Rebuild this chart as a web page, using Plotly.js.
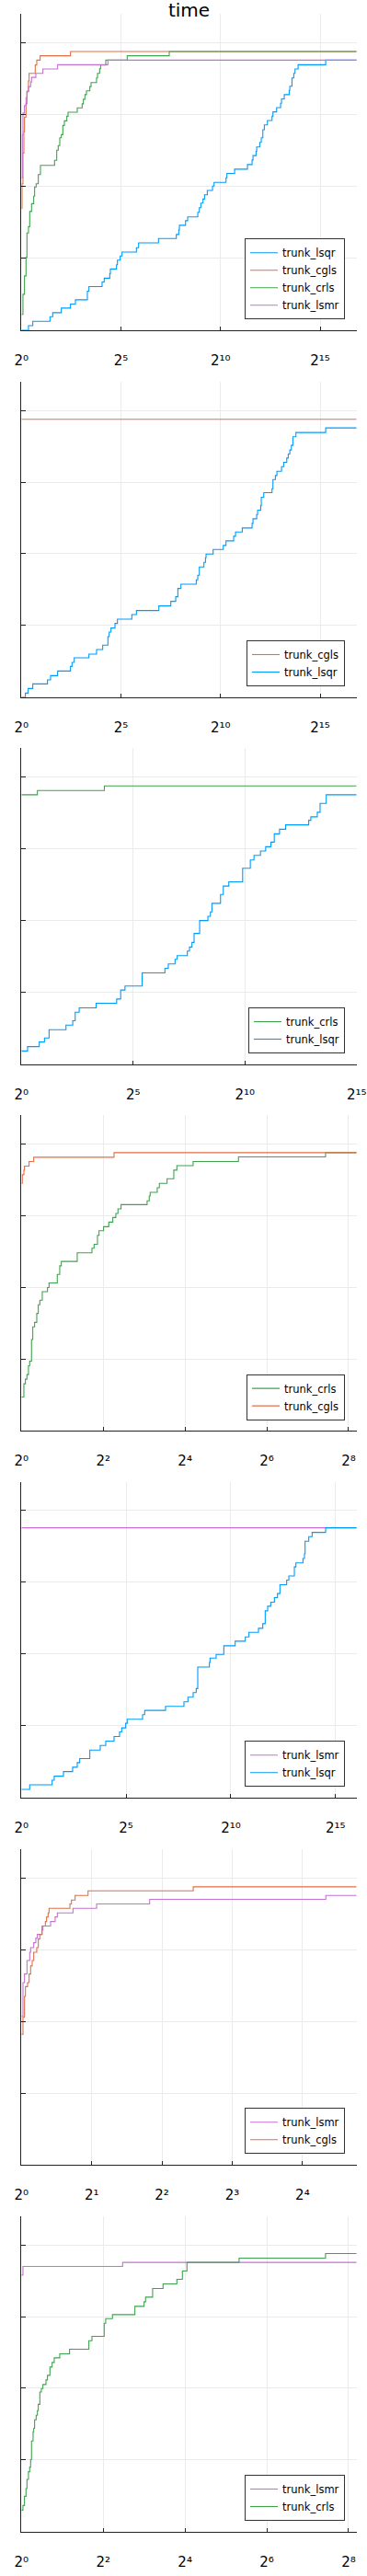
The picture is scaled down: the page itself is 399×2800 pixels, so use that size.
<!DOCTYPE html>
<html><head><meta charset="utf-8">
<script src="https://cdn.plot.ly/plotly-3.0.1.min.js"></script>
<style>html,body{margin:0;padding:0;background:#fff;} #chart{width:399px;height:2800px;}</style>
</head><body><div id="chart"></div><script>
// x values are log2(tau); y values are fraction of problems
const p1_lsqr_x = [0, 0.354, 0.570, 1.432, 1.571, 2.002, 2.464, 2.711, 3.311, 3.388, 4.050, 4.158, 4.436, 4.466, 4.774, 4.821, 4.959, 5.052, 5.775, 5.883, 6.884, 7.778, 7.901, 7.932, 8.240, 8.347, 8.856, 8.933, 9.010, 9.117, 9.194, 9.333, 9.595, 9.672, 10.272, 10.318, 10.704, 11.351, 11.582, 11.628, 11.782, 11.813, 11.967, 12.044, 12.121, 12.198, 12.352, 12.583, 12.629, 12.814, 13.014, 13.060, 13.199, 13.445, 13.476, 13.584, 13.676, 13.738, 13.892, 15.278, 16.83];
const p1_lsqr_y = [0, 0.016, 0.031, 0.047, 0.061, 0.077, 0.091, 0.106, 0.136, 0.152, 0.168, 0.181, 0.197, 0.213, 0.228, 0.244, 0.258, 0.272, 0.287, 0.304, 0.319, 0.333, 0.349, 0.365, 0.381, 0.394, 0.410, 0.426, 0.442, 0.456, 0.471, 0.486, 0.501, 0.514, 0.530, 0.545, 0.560, 0.576, 0.592, 0.607, 0.622, 0.637, 0.653, 0.669, 0.697, 0.714, 0.729, 0.744, 0.759, 0.774, 0.789, 0.804, 0.819, 0.834, 0.848, 0.877, 0.893, 0.908, 0.923, 0.939, 0.939];
const p1_cgls_x = [0, 0.031, 0.077, 0.123, 0.154, 0.231, 0.277, 0.354, 0.385, 0.693, 0.770, 0.939, 2.464, 16.83];
const p1_cgls_y = [0.424, 0.509, 0.616, 0.690, 0.741, 0.787, 0.829, 0.867, 0.893, 0.922, 0.939, 0.954, 0.969, 0.969];
const p1_crls_x = [0, 0.077, 0.154, 0.231, 0.277, 0.354, 0.416, 0.508, 0.616, 0.662, 0.739, 0.847, 0.955, 1.663, 1.771, 1.848, 1.925, 2.002, 2.079, 2.156, 2.279, 2.341, 2.803, 3.049, 3.111, 3.188, 3.265, 3.434, 3.496, 3.773, 3.820, 3.927, 3.974, 4.235, 5.313, 7.423, 16.83];
const p1_crls_y = [0.055, 0.125, 0.189, 0.253, 0.338, 0.360, 0.413, 0.440, 0.466, 0.498, 0.509, 0.541, 0.573, 0.591, 0.626, 0.642, 0.669, 0.680, 0.712, 0.728, 0.744, 0.758, 0.773, 0.787, 0.803, 0.819, 0.832, 0.847, 0.861, 0.877, 0.893, 0.909, 0.922, 0.939, 0.954, 0.969, 0.969];
const p1_lsmr_x = [0, 0.046, 0.077, 0.154, 0.231, 0.277, 0.354, 0.462, 0.508, 0.724, 1.078, 1.817, 4.343, 16.83];
const p1_lsmr_y = [0.530, 0.680, 0.755, 0.781, 0.808, 0.831, 0.847, 0.863, 0.879, 0.893, 0.908, 0.923, 0.939, 0.939];

const p2_cgls_x = [0, 16.83];
const p2_cgls_y = [0.969, 0.969];
const p2_lsqr_x = [0, 0.200, 0.339, 0.570, 1.309, 1.463, 1.817, 2.464, 2.541, 2.649, 3.388, 3.773, 4.081, 4.343, 4.405, 4.497, 4.697, 4.821, 5.544, 5.775, 6.900, 7.501, 7.747, 7.855, 8.009, 8.779, 8.856, 8.933, 9.164, 9.241, 9.271, 9.625, 10.134, 10.272, 10.657, 10.750, 11.089, 11.582, 11.628, 11.813, 11.859, 12.013, 12.044, 12.167, 12.583, 12.629, 12.752, 12.829, 13.060, 13.168, 13.322, 13.399, 13.476, 13.553, 13.630, 13.784, 15.278, 16.83];
const p2_lsqr_y = [0, 0.014, 0.030, 0.046, 0.060, 0.075, 0.091, 0.107, 0.121, 0.137, 0.150, 0.166, 0.181, 0.211, 0.227, 0.241, 0.257, 0.272, 0.288, 0.302, 0.318, 0.334, 0.350, 0.379, 0.394, 0.409, 0.425, 0.454, 0.470, 0.486, 0.499, 0.515, 0.529, 0.545, 0.561, 0.576, 0.590, 0.606, 0.622, 0.637, 0.652, 0.668, 0.697, 0.713, 0.727, 0.759, 0.773, 0.788, 0.804, 0.819, 0.834, 0.848, 0.862, 0.878, 0.908, 0.923, 0.939, 0.939];

const p3_crls_x = [0, 0.715, 3.712, 15];
const p3_crls_y = [0.938, 0.953, 0.969, 0.969];
const p3_lsqr_x = [0, 0.275, 0.797, 1.031, 1.237, 1.994, 2.296, 2.406, 2.585, 3.341, 4.262, 4.441, 4.634, 5.404, 6.421, 6.572, 6.875, 6.971, 7.425, 7.521, 7.631, 7.727, 7.975, 8.346, 8.456, 8.525, 8.910, 9.033, 9.281, 9.900, 10.243, 10.408, 10.697, 10.931, 11.165, 11.316, 11.550, 11.825, 12.856, 12.952, 13.241, 13.365, 13.640, 15];
const p3_lsqr_y = [0.046, 0.061, 0.077, 0.091, 0.120, 0.136, 0.151, 0.181, 0.196, 0.212, 0.227, 0.258, 0.272, 0.318, 0.334, 0.349, 0.365, 0.378, 0.394, 0.408, 0.424, 0.455, 0.500, 0.515, 0.530, 0.560, 0.591, 0.620, 0.635, 0.682, 0.711, 0.727, 0.742, 0.757, 0.773, 0.802, 0.818, 0.833, 0.849, 0.861, 0.877, 0.908, 0.938, 0.938];

const p4_crls_x = [0, 0.060, 0.097, 0.135, 0.172, 0.202, 0.247, 0.277, 0.322, 0.375, 0.412, 0.450, 0.510, 0.637, 0.675, 0.877, 0.937, 0.975, 1.364, 1.724, 1.777, 1.859, 1.897, 2.009, 2.136, 2.234, 2.309, 2.361, 2.436, 3.073, 3.126, 3.148, 3.321, 3.373, 3.561, 3.726, 3.801, 4.198, 5.307, 7.436, 8.196];
const p4_crls_y = [0.118, 0.164, 0.180, 0.196, 0.227, 0.243, 0.318, 0.362, 0.378, 0.409, 0.439, 0.455, 0.485, 0.499, 0.515, 0.545, 0.575, 0.590, 0.620, 0.636, 0.650, 0.681, 0.697, 0.711, 0.727, 0.743, 0.757, 0.773, 0.788, 0.801, 0.818, 0.831, 0.847, 0.862, 0.878, 0.908, 0.924, 0.938, 0.954, 0.969, 0.969];
const p4_cgls_x = [0, 0.022, 0.060, 0.075, 0.187, 0.300, 2.264, 8.196];
const p4_cgls_y = [0.862, 0.892, 0.908, 0.922, 0.938, 0.953, 0.969, 0.969];

const p5_lsmr_x = [0, 16.01];
const p5_lsmr_y = [0.940, 0.940];
const p5_lsqr_x = [0, 0.395, 1.465, 1.567, 2.007, 2.446, 2.666, 2.783, 3.266, 3.764, 4.028, 4.424, 4.687, 4.790, 4.980, 5.053, 5.786, 5.888, 6.884, 7.763, 7.954, 8.203, 8.349, 8.422, 8.979, 9.008, 9.301, 9.667, 10.209, 10.693, 10.869, 11.323, 11.528, 11.645, 11.762, 11.909, 12.084, 12.231, 12.348, 12.670, 12.773, 13.037, 13.110, 13.447, 13.520, 13.549, 13.725, 13.886, 14.531, 16.01];
const p5_lsqr_y = [0.029, 0.045, 0.061, 0.075, 0.091, 0.106, 0.122, 0.136, 0.166, 0.182, 0.197, 0.213, 0.229, 0.243, 0.259, 0.273, 0.289, 0.304, 0.318, 0.334, 0.350, 0.366, 0.380, 0.455, 0.471, 0.486, 0.499, 0.529, 0.545, 0.560, 0.576, 0.590, 0.606, 0.651, 0.667, 0.681, 0.697, 0.711, 0.742, 0.758, 0.772, 0.804, 0.818, 0.833, 0.849, 0.893, 0.909, 0.924, 0.940, 0.940];

const p6_lsmr_x = [0, 0.022, 0.044, 0.079, 0.118, 0.131, 0.175, 0.205, 0.227, 0.293, 0.306, 0.415, 0.480, 0.511, 0.734, 1.070, 1.825, 4.332, 4.77];
const p6_lsmr_y = [0.517, 0.635, 0.665, 0.712, 0.741, 0.757, 0.774, 0.790, 0.803, 0.818, 0.832, 0.848, 0.864, 0.878, 0.894, 0.909, 0.925, 0.939, 0.939];
const p6_cgls_x = [0, 0.022, 0.044, 0.057, 0.087, 0.109, 0.131, 0.153, 0.175, 0.218, 0.240, 0.262, 0.293, 0.341, 0.358, 0.380, 0.393, 0.690, 0.712, 0.764, 0.948, 2.445, 4.77];
const p6_cgls_y = [0.455, 0.514, 0.587, 0.621, 0.635, 0.665, 0.693, 0.712, 0.741, 0.757, 0.787, 0.803, 0.832, 0.848, 0.864, 0.878, 0.894, 0.909, 0.923, 0.939, 0.955, 0.969, 0.969];

const p7_lsmr_x = [0, 0.037, 2.474, 8.196];
const p7_lsmr_y = [0.895, 0.925, 0.939, 0.939];
const p7_crls_x = [0, 0.037, 0.075, 0.112, 0.135, 0.172, 0.202, 0.225, 0.247, 0.285, 0.300, 0.322, 0.360, 0.390, 0.412, 0.450, 0.487, 0.525, 0.600, 0.637, 0.697, 0.750, 0.802, 0.937, 1.177, 1.649, 1.724, 2.024, 2.061, 2.226, 2.774, 2.999, 3.036, 3.208, 3.463, 3.801, 3.936, 4.048, 5.322, 7.436, 8.196];
const p7_crls_y = [0.075, 0.091, 0.123, 0.150, 0.182, 0.209, 0.225, 0.251, 0.316, 0.348, 0.360, 0.390, 0.406, 0.422, 0.444, 0.487, 0.499, 0.513, 0.529, 0.545, 0.574, 0.590, 0.606, 0.620, 0.636, 0.666, 0.681, 0.727, 0.743, 0.757, 0.786, 0.802, 0.818, 0.848, 0.864, 0.880, 0.909, 0.939, 0.954, 0.970, 0.970];

// tick values (log2 tau) and labels
const ticks_a = [0, 5, 10, 15];
const labels_a = ['2⁰', '2⁵', '2¹⁰', '2¹⁵'];
const ticks_b = [0, 2, 4, 6, 8];
const labels_b = ['2⁰', '2²', '2⁴', '2⁶', '2⁸'];
const ticks_c = [0, 1, 2, 3, 4];
const labels_c = ['2⁰', '2¹', '2²', '2³', '2⁴'];
const y_ticks = [0, 0.25, 0.5, 0.75, 1.0];
const titleText = 'time';

const COLORS = {trunk_lsqr:'#009afa', trunk_cgls:'#e26f46', trunk_crls:'#3da44d', trunk_lsmr:'#c371d2'};

const W = 399, H = 2800;
const FONT = 'DejaVu Sans, sans-serif';
const panels = [
  {xmax:16.83, tv:ticks_a, tt:labels_a, top:15, bottom:359,
   s:[['trunk_lsqr',p1_lsqr_x,p1_lsqr_y],['trunk_cgls',p1_cgls_x,p1_cgls_y],['trunk_crls',p1_crls_x,p1_crls_y],['trunk_lsmr',p1_lsmr_x,p1_lsmr_y]]},
  {xmax:16.83, tv:ticks_a, tt:labels_a, top:415, bottom:757.7,
   s:[['trunk_cgls',p2_cgls_x,p2_cgls_y],['trunk_lsqr',p2_lsqr_x,p2_lsqr_y]]},
  {xmax:15, tv:ticks_a, tt:labels_a, top:813.3, bottom:1156.7,
   s:[['trunk_crls',p3_crls_x,p3_crls_y],['trunk_lsqr',p3_lsqr_x,p3_lsqr_y]]},
  {xmax:8.196, tv:ticks_b, tt:labels_b, top:1212, bottom:1555.3,
   s:[['trunk_crls',p4_crls_x,p4_crls_y],['trunk_cgls',p4_cgls_x,p4_cgls_y]]},
  {xmax:16.01, tv:ticks_a, tt:labels_a, top:1610.7, bottom:1954,
   s:[['trunk_lsmr',p5_lsmr_x,p5_lsmr_y],['trunk_lsqr',p5_lsqr_x,p5_lsqr_y]]},
  {xmax:4.77, tv:ticks_c, tt:labels_c, top:2010, bottom:2353,
   s:[['trunk_lsmr',p6_lsmr_x,p6_lsmr_y],['trunk_cgls',p6_cgls_x,p6_cgls_y]]},
  {xmax:8.196, tv:ticks_b, tt:labels_b, top:2409, bottom:2751.7,
   s:[['trunk_lsmr',p7_lsmr_x,p7_lsmr_y],['trunk_crls',p7_crls_x,p7_crls_y]]}
];

const traces = [];
const layout = {
  width: W, height: H, margin:{l:0,r:0,t:0,b:0},
  paper_bgcolor:'#fff', plot_bgcolor:'#fff',
  font:{family:FONT, color:'#000'},
  title:{text:titleText, x:205.5/W, xanchor:'center', y:1-11/H, yanchor:'middle', font:{size:20, family:FONT, color:'#000'}},
};
const x0 = 23.3/W, x1 = 387.7/W;
panels.forEach((p, i) => {
  const k = i === 0 ? '' : String(i+1);
  p.s.forEach(([name, xs, ys]) => {
    const n = Math.min(xs.length, ys.length);
    traces.push({type:'scatter', mode:'lines', name:name, x:xs.slice(0,n), y:ys.slice(0,n),
      xaxis:'x'+k, yaxis:'y'+k, legend:'legend'+k,
      line:{shape:'hv', color:COLORS[name], width:1.1}, hoverinfo:'skip'});
  });
  layout['xaxis'+k] = {
    domain:[x0, x1], anchor:'y'+k, range:[0, p.xmax], autorange:false,
    tickmode:'array', tickvals:p.tv, ticktext:p.tt,
    ticks:'inside', ticklen:4, tickwidth:1, tickcolor:'#222',
    showline:true, linecolor:'#222', linewidth:1, zeroline:false, mirror:false,
    showgrid:true, gridcolor:'#ebebeb', gridwidth:1,
    tickfont:{size:15, family:FONT, color:'#000'}, ticklabelstandoff:19, automargin:false
  };
  layout['yaxis'+k] = {
    domain:[1-p.bottom/H, 1-p.top/H], anchor:'x'+k, range:[0, 1.1], autorange:false,
    tickmode:'array', tickvals:y_ticks, showticklabels:false,
    ticks:'inside', ticklen:5, tickwidth:1, tickcolor:'#222',
    showline:true, linecolor:'#222', linewidth:1, zeroline:false, mirror:false,
    showgrid:true, gridcolor:'#ebebeb', gridwidth:1, automargin:false
  };
  layout['legend'+k] = {
    x:375/W, xanchor:'right', y:1-(p.bottom-11.7)/H, yanchor:'bottom',
    bgcolor:'#fff', bordercolor:'#333', borderwidth:1,
    font:{size:11.5, family:FONT, color:'#000'}, itemwidth:30, tracegroupgap:0
  };
});

Plotly.newPlot('chart', traces, layout, {displayModeBar:false, staticPlot:true});
</script></body></html>
